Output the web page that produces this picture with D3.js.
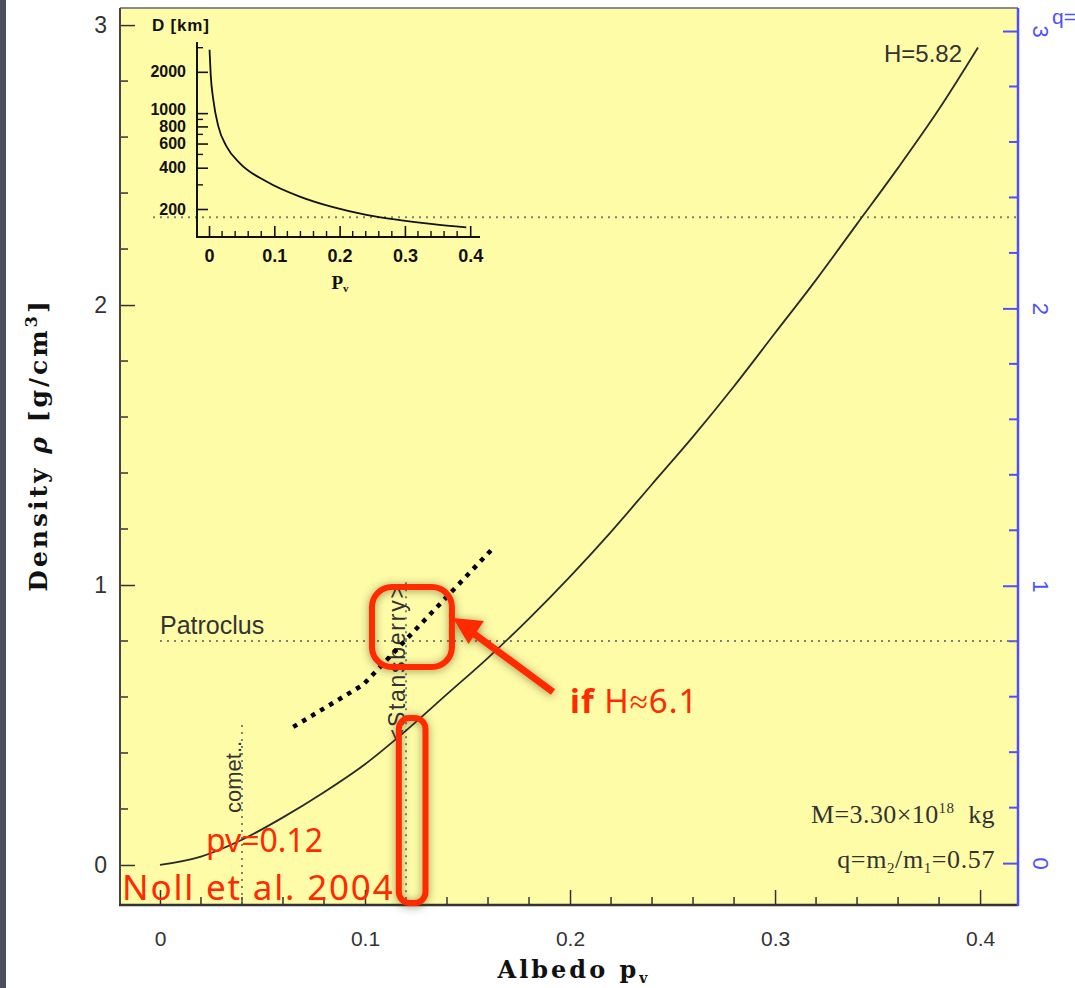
<!DOCTYPE html>
<html>
<head>
<meta charset="utf-8">
<script src="https://cdn.jsdelivr.net/npm/d3@7"></script>
<style>
  body { margin: 0; background: #fff; }
  svg { display: block; }
</style>
</head>
<body>
<svg id="chart" width="1075" height="988"></svg>
<script>
// density vs albedo, main curve (H=5.82)
var albedo  = [0, 0.02, 0.04, 0.06, 0.08, 0.10, 0.12, 0.14, 0.16, 0.18, 0.20, 0.22, 0.24, 0.26, 0.28, 0.30, 0.32, 0.34, 0.36, 0.38, 0.399];
var density = [0, 0.03, 0.09, 0.17, 0.26, 0.36, 0.48, 0.61, 0.74, 0.88, 1.03, 1.19, 1.36, 1.53, 1.71, 1.90, 2.09, 2.29, 2.49, 2.70, 2.92];

// hand drawn dotted curve, "if H~6.1"
var altAlbedo  = [0.065, 0.099, 0.1625];
var altDensity = [0.493, 0.643, 1.132];

// inset: diameter vs albedo
var insetAlbedo = [0.0008, 0.0026, 0.0066, 0.0143, 0.027, 0.0474, 0.088, 0.139, 0.19, 0.241, 0.292, 0.343, 0.394];
var insetDiam   = [2900, 1900, 1250, 800, 570, 431, 317, 246, 206, 181, 166, 155, 147];

var xTicks = [0, 0.1, 0.2, 0.3, 0.4];
var yTicks = [0, 1, 2, 3];
var qTicks = [0, 1, 2, 3];
var insetXTicks = [0, 0.1, 0.2, 0.3, 0.4];
var insetYLabels = [200, 400, 600, 800, 1000, 2000];
var insetYMinor = [300, 500, 700, 900, 3000];

var patroclusRho = 0.8;
var insetRefRho = 2.314;
var comet = {pv: 0.04, top: 0.5, label: "comet.."};
var stans = {pv: 0.12, top: 1.01, label: "<Stansberry>"};

var RED = "#ff2a00", BLUE = "#4f4fff", INK = "#333";

var svg = d3.select("#chart");

var x = d3.scaleLinear().domain([-0.0195, 0.4185]).range([120, 1018]);
var y = d3.scaleLinear().domain([-0.143, 3.061]).range([905, 8]);
var yq = d3.scaleLinear().domain([-0.151, 3.083]).range([905, 8]);

var defs = svg.append("defs");
var f = defs.append("filter").attr("id", "glow").attr("x", "-50%").attr("y", "-50%").attr("width", "200%").attr("height", "200%");
f.append("feDropShadow").attr("dx", 0).attr("dy", 1).attr("stdDeviation", 4)
  .attr("flood-color", "#3a3a00").attr("flood-opacity", 0.55);

// slide edge
svg.append("rect").attr("x", 0).attr("y", 0).attr("width", 6).attr("height", 988).attr("fill", "#4c505c");

// panel
svg.append("rect").attr("x", 120).attr("y", 8).attr("width", 898).attr("height", 897).attr("fill", "#fffca8");

function lineAt(x1, y1, x2, y2, col, w) {
  return svg.append("line").attr("x1", x1).attr("y1", y1).attr("x2", x2).attr("y2", y2)
    .attr("stroke", col).attr("stroke-width", w);
}

// axes
var gx = svg.append("g").attr("transform", "translate(0,905)")
  .call(d3.axisBottom(x).tickValues(xTicks).tickSize(-15).tickPadding(26).tickFormat(d3.format("")));
gx.selectAll(".tick line").attr("stroke", "#333").attr("stroke-width", 1.5);
gx.select(".domain").remove();
gx.selectAll("text").attr("font-family", "Liberation Sans").attr("font-size", 21).attr("fill", INK);
svg.append("g").selectAll("line").data(d3.range(0, 0.41, 0.02).filter(function(d){ return Math.round(d*50) % 5 != 0; }))
  .enter().append("line")
  .attr("x1", function(d){ return x(d); }).attr("x2", function(d){ return x(d); })
  .attr("y1", 905).attr("y2", 897).attr("stroke", "#333").attr("stroke-width", 1.5);

var gy = svg.append("g").attr("transform", "translate(120,0)")
  .call(d3.axisLeft(y).tickValues(yTicks).tickSize(-15).tickPadding(13).tickFormat(d3.format("d")));
gy.selectAll(".tick line").attr("stroke", "#333").attr("stroke-width", 1.5);
gy.select(".domain").remove();
gy.selectAll("text").attr("font-family", "Liberation Sans").attr("font-size", 23).attr("fill", INK);
svg.append("g").selectAll("line").data(d3.range(0.2, 3, 0.2).filter(function(d){ return Math.round(d*5) % 5 != 0; }))
  .enter().append("line")
  .attr("x1", 120).attr("x2", 128)
  .attr("y1", function(d){ return y(d); }).attr("y2", function(d){ return y(d); })
  .attr("stroke", "#333").attr("stroke-width", 1.5);

var gq = svg.append("g").attr("transform", "translate(1018,0)")
  .call(d3.axisRight(yq).tickValues(qTicks).tickSize(-15).tickPadding(0).tickFormat(d3.format("d")));
gq.selectAll(".tick line").attr("stroke", BLUE).attr("stroke-width", 2);
gq.select(".domain").remove();
gq.selectAll("text").attr("font-family", "Liberation Sans").attr("font-size", 22).attr("fill", BLUE)
  .attr("x", 0).attr("dy", null).attr("text-anchor", "middle").attr("dominant-baseline", "central")
  .attr("transform", "translate(22,0) rotate(90)");
svg.append("g").selectAll("line").data(d3.range(-0.0, 3.0, 0.2).filter(function(d){ return Math.round(d*5) % 5 != 0; }))
  .enter().append("line")
  .attr("x1", 1018).attr("x2", 1009)
  .attr("y1", function(d){ return yq(d); }).attr("y2", function(d){ return yq(d); })
  .attr("stroke", BLUE).attr("stroke-width", 2);
svg.append("text").attr("x", 1052).attr("y", 24).attr("font-family", "Liberation Sans").attr("font-size", 21)
  .attr("fill", BLUE).text("q=");

// frame
lineAt(120, 8, 1018, 8, "#8a8a8a", 2);
lineAt(120, 8, 120, 906, "#444", 2);
lineAt(119, 905, 1018, 905, "#333", 2.5);
lineAt(1018, 8, 1018, 906, BLUE, 2.5);

// reference lines
function dotted(x1, y1, x2, y2) {
  return lineAt(x1, y1, x2, y2, "#808070", 2).attr("stroke-dasharray", "2,5");
}
dotted(x(0), y(patroclusRho), 1016, y(patroclusRho));
dotted(153, y(insetRefRho), 1016, y(insetRefRho));
dotted(x(comet.pv), y(comet.top), x(comet.pv), 904);
dotted(x(stans.pv), y(stans.top), x(stans.pv), 904);

svg.append("text").attr("x", x(0)).attr("y", y(patroclusRho) - 7)
  .attr("font-family", "Liberation Sans").attr("font-size", 25).attr("fill", INK).text("Patroclus");
svg.append("text").attr("transform", "translate(" + (x(comet.pv) - 1) + "," + (y(comet.top) + 88) + ") rotate(-90)")
  .attr("font-family", "Liberation Sans").attr("font-size", 22).attr("fill", INK).text(comet.label);
svg.append("text").attr("transform", "translate(" + (x(stans.pv) - 1) + "," + (y(stans.top) + 160) + ") rotate(-90)")
  .attr("font-family", "Liberation Sans").attr("font-size", 23).attr("fill", INK).attr("textLength", 157).text(stans.label);

// main curve
var pts = albedo.map(function(d, i){ return [d, density[i]]; });
svg.append("path").datum(pts)
  .attr("d", d3.line().x(function(d){ return x(d[0]); }).y(function(d){ return y(d[1]); }).curve(d3.curveMonotoneX))
  .attr("fill", "none").attr("stroke", "#2a2a2a").attr("stroke-width", 1.8);

svg.append("text").attr("x", 962).attr("y", 62).attr("text-anchor", "end")
  .attr("font-family", "Liberation Sans").attr("font-size", 24).attr("fill", INK).text("H=5.82");

// alt dotted curve
var alt = altAlbedo.map(function(d, i){ return [d, altDensity[i]]; });
svg.append("path").datum(alt)
  .attr("d", d3.line().x(function(d){ return x(d[0]); }).y(function(d){ return y(d[1]); }))
  .attr("fill", "none").attr("stroke", "#000").attr("stroke-width", 4.5).attr("stroke-dasharray", "4.5,6");

// mass / ratio text
var serif = "Liberation Serif";
var mt = svg.append("text").attr("x", 995).attr("y", 823).attr("text-anchor", "end")
  .attr("font-family", serif).attr("font-size", 26).attr("letter-spacing", 0.4).attr("fill", INK);
mt.append("tspan").text("M=3.30×10");
mt.append("tspan").attr("font-size", 15).attr("dy", -10).text("18");
mt.append("tspan").attr("dy", 10).text("\u00a0 kg");
var qt = svg.append("text").attr("x", 995).attr("y", 868).attr("text-anchor", "end")
  .attr("font-family", serif).attr("font-size", 26).attr("letter-spacing", 0.6).attr("fill", INK);
qt.append("tspan").text("q=m");
qt.append("tspan").attr("font-size", 15).attr("dy", 5).text("2");
qt.append("tspan").attr("dy", -5).text("/m");
qt.append("tspan").attr("font-size", 15).attr("dy", 5).text("1");
qt.append("tspan").attr("dy", -5).text("=0.57");

// axis titles
var yt = svg.append("text").attr("transform", "translate(47,445) rotate(-90)").attr("text-anchor", "middle")
  .attr("font-family", "DejaVu Serif").attr("font-weight", "bold").attr("font-size", 25).attr("letter-spacing", 3).attr("fill", "#111");
yt.append("tspan").text("Density ");
yt.append("tspan").attr("font-style", "italic").text("ρ");
yt.append("tspan").text(" [g/cm");
yt.append("tspan").attr("font-size", 16).attr("dy", -10).text("3");
yt.append("tspan").attr("dy", 10).text("]");
var xt = svg.append("text").attr("x", 574).attr("y", 978).attr("text-anchor", "middle")
  .attr("font-family", "DejaVu Serif").attr("font-weight", "bold").attr("font-size", 24).attr("letter-spacing", 3).attr("fill", "#111");
xt.append("tspan").text("Albedo p");
xt.append("tspan").attr("font-size", 14).attr("dy", 5).text("v");

// inset
var xi = d3.scaleLinear().domain([-0.0184, 0.415]).range([197, 480]);
var yi = d3.scaleLog().domain([125, 3300]).range([237, 42]);
var gi = svg.append("g");
var gix = gi.append("g").attr("transform", "translate(0,237)")
  .call(d3.axisBottom(xi).tickValues(insetXTicks).tickSize(-11).tickPadding(12).tickFormat(d3.format("")));
gix.select(".domain").remove();
gix.selectAll(".tick line").attr("stroke", "#111").attr("stroke-width", 1.6);
gix.selectAll("text").attr("font-family", "Liberation Sans").attr("font-weight", "bold").attr("font-size", 18).attr("fill", "#111");
gi.append("g").selectAll("line").data(d3.range(0, 0.41, 0.02).filter(function(d){ return Math.round(d*50) % 5 != 0; }))
  .enter().append("line")
  .attr("x1", function(d){ return xi(d); }).attr("x2", function(d){ return xi(d); })
  .attr("y1", 237).attr("y2", 231).attr("stroke", "#111").attr("stroke-width", 1.4);
var giy = gi.append("g").attr("transform", "translate(197,0)")
  .call(d3.axisLeft(yi).tickValues(insetYLabels).tickSize(-11).tickPadding(11).tickFormat(d3.format("d")));
giy.select(".domain").remove();
giy.selectAll(".tick line").attr("stroke", "#111").attr("stroke-width", 1.6);
giy.selectAll("text").attr("font-family", "Liberation Sans").attr("font-weight", "bold").attr("font-size", 16).attr("fill", "#111")
  .attr("y", function(d){ return d == 1000 ? -4 : 0; });
gi.append("g").selectAll("line").data(insetYMinor).enter().append("line")
  .attr("x1", 197).attr("x2", 203)
  .attr("y1", function(d){ return yi(d); }).attr("y2", function(d){ return yi(d); })
  .attr("stroke", "#111").attr("stroke-width", 1.4);
gi.append("line").attr("x1", 197).attr("y1", 42).attr("x2", 197).attr("y2", 238).attr("stroke", "#111").attr("stroke-width", 2);
gi.append("line").attr("x1", 196).attr("y1", 237).attr("x2", 480).attr("y2", 237).attr("stroke", "#111").attr("stroke-width", 2);
var ipts = insetAlbedo.map(function(d, i){ return [d, insetDiam[i]]; });
gi.append("path").datum(ipts)
  .attr("d", d3.line().x(function(d){ return xi(d[0]); }).y(function(d){ return yi(d[1]); }).curve(d3.curveMonotoneX))
  .attr("fill", "none").attr("stroke", "#111").attr("stroke-width", 1.8);
gi.append("text").attr("x", 152).attr("y", 31).attr("font-family", "Liberation Sans").attr("font-weight", "bold")
  .attr("font-size", 17).attr("letter-spacing", 0.8).attr("fill", "#111").text("D [km]");
var pvl = gi.append("text").attr("x", 340).attr("y", 289).attr("text-anchor", "middle")
  .attr("font-family", "Liberation Serif").attr("font-weight", "bold").attr("font-size", 19).attr("fill", "#111");
pvl.append("tspan").text("P");
pvl.append("tspan").attr("font-size", 11).attr("dy", 3).text("v");

// red annotations
var ann = svg.append("g").attr("filter", "url(#glow)");
function box(p0, p1, r0, r1, rad) {
  ann.append("rect")
    .attr("x", x(p0)).attr("y", y(r1)).attr("width", x(p1) - x(p0)).attr("height", y(r0) - y(r1))
    .attr("rx", rad).attr("fill", "none").attr("stroke", RED).attr("stroke-width", 6);
}
box(0.1165, 0.1295, -0.136, 0.525, 11);
box(0.1034, 0.1424, 0.707, 0.993, 20);
ann.append("line").attr("x1", x(0.1917)).attr("y1", y(0.618)).attr("x2", x(0.150)).attr("y2", y(0.843))
  .attr("stroke", RED).attr("stroke-width", 7);
var tip = [x(0.1429), y(0.882)];
ann.append("path")
  .attr("d", "M" + tip + "L" + [x(0.158), y(0.871)] + "L" + [x(0.1505), y(0.789)] + "Z")
  .attr("fill", RED);

var red = svg.append("g").attr("fill", RED).attr("font-family", "Noto Sans");
red.append("text").attr("x", x(0.0224)).attr("y", y(0.046)).attr("font-size", 32).text("pv=0.12");
red.append("text").attr("x", x(-0.0185)).attr("y", y(-0.125)).attr("font-size", 35).attr("letter-spacing", 1.8).text("Noll et al. 2004");
var ifT = red.append("text").attr("x", x(0.2)).attr("y", y(0.543)).attr("font-size", 33).attr("letter-spacing", 1);
ifT.append("tspan").attr("font-weight", "bold").text("if");
ifT.append("tspan").text(" H≈6.1");
</script>
</body>
</html>
